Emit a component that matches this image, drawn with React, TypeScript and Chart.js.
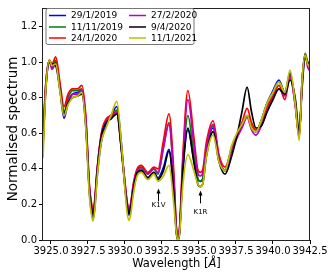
import React, { useEffect, useRef } from "react";
import { Chart, registerables } from "chart.js";

Chart.register(...registerables);

const FONT = "'DejaVu Sans', sans-serif";

const wavelengths = [3924.46, 3924.66, 3924.9, 3925.07, 3925.32, 3925.6, 3925.88, 3926.15, 3926.45, 3926.8, 3927.08, 3927.35, 3927.6, 3927.73, 3927.84, 3927.96, 3928.1, 3928.4, 3928.72, 3929.05, 3929.45, 3929.75, 3930.02, 3930.15, 3930.27, 3930.4, 3930.55, 3930.82, 3931.1, 3931.55, 3931.95, 3932.23, 3932.6, 3932.97, 3933.3, 3933.47, 3933.58, 3933.69, 3933.9, 3934.25, 3934.65, 3934.92, 3935.08, 3935.25, 3935.5, 3935.95, 3936.35, 3936.76, 3937.2, 3937.55, 3937.9, 3938.25, 3938.55, 3938.85, 3939.2, 3939.6, 3940.0, 3940.4, 3940.8, 3941.15, 3941.5, 3941.77, 3941.97, 3942.17, 3942.35, 3942.5];

const spec_29_1_2019 = [0.55, 0.88, 1.01, 0.97, 1.00, 0.85, 0.685, 0.77, 0.82, 0.83, 0.84, 0.66, 0.26, 0.16, 0.12, 0.18, 0.34, 0.55, 0.65, 0.70, 0.75, 0.55, 0.28, 0.18, 0.14, 0.18, 0.27, 0.37, 0.39, 0.35, 0.38, 0.35, 0.41, 0.51, 0.27, 0.05, 0.01, 0.05, 0.37, 0.62, 0.45, 0.345, 0.33, 0.345, 0.50, 0.63, 0.45, 0.39, 0.51, 0.58, 0.64, 0.70, 0.63, 0.61, 0.67, 0.77, 0.84, 0.90, 0.83, 0.93, 0.77, 0.58, 0.90, 1.04, 0.99, 0.97];
const spec_11_11_2019 = [0.58, 0.89, 1.01, 0.98, 1.01, 0.87, 0.72, 0.80, 0.84, 0.84, 0.85, 0.67, 0.28, 0.19, 0.15, 0.21, 0.37, 0.59, 0.67, 0.70, 0.73, 0.53, 0.29, 0.20, 0.16, 0.20, 0.29, 0.39, 0.41, 0.37, 0.40, 0.37, 0.52, 0.66, 0.33, 0.06, 0.01, 0.06, 0.40, 0.70, 0.48, 0.345, 0.33, 0.345, 0.51, 0.64, 0.46, 0.39, 0.52, 0.59, 0.65, 0.70, 0.64, 0.61, 0.67, 0.77, 0.83, 0.89, 0.83, 0.94, 0.78, 0.58, 0.90, 1.05, 1.00, 0.98];
const spec_24_1_2020 = [0.58, 0.89, 1.01, 0.99, 1.03, 0.89, 0.75, 0.82, 0.85, 0.85, 0.87, 0.70, 0.30, 0.21, 0.17, 0.23, 0.38, 0.60, 0.68, 0.70, 0.72, 0.52, 0.30, 0.21, 0.17, 0.21, 0.31, 0.40, 0.42, 0.38, 0.41, 0.40, 0.56, 0.71, 0.38, 0.07, 0.02, 0.07, 0.46, 0.84, 0.58, 0.395, 0.38, 0.395, 0.55, 0.67, 0.48, 0.41, 0.51, 0.59, 0.66, 0.74, 0.66, 0.62, 0.66, 0.75, 0.81, 0.87, 0.79, 0.92, 0.76, 0.58, 0.90, 1.04, 0.99, 0.97];
const spec_27_2_2020 = [0.55, 0.87, 1.00, 0.96, 0.99, 0.86, 0.70, 0.78, 0.82, 0.82, 0.84, 0.68, 0.30, 0.20, 0.16, 0.22, 0.38, 0.59, 0.67, 0.69, 0.72, 0.52, 0.31, 0.21, 0.17, 0.21, 0.30, 0.39, 0.40, 0.37, 0.40, 0.38, 0.52, 0.65, 0.34, 0.07, 0.02, 0.07, 0.43, 0.79, 0.54, 0.375, 0.36, 0.375, 0.52, 0.65, 0.46, 0.39, 0.50, 0.57, 0.63, 0.69, 0.62, 0.59, 0.64, 0.73, 0.80, 0.85, 0.81, 0.92, 0.76, 0.59, 0.88, 1.04, 0.97, 0.95];
const spec_9_4_2020 = [0.52, 0.86, 1.00, 0.99, 0.98, 0.85, 0.71, 0.77, 0.80, 0.81, 0.82, 0.64, 0.27, 0.18, 0.14, 0.20, 0.36, 0.58, 0.66, 0.68, 0.71, 0.51, 0.28, 0.19, 0.15, 0.19, 0.28, 0.38, 0.39, 0.35, 0.38, 0.34, 0.39, 0.50, 0.26, 0.04, 0.00, 0.04, 0.38, 0.63, 0.44, 0.315, 0.30, 0.315, 0.47, 0.61, 0.44, 0.37, 0.47, 0.58, 0.72, 0.86, 0.72, 0.63, 0.64, 0.72, 0.79, 0.85, 0.82, 0.90, 0.80, 0.61, 0.86, 1.03, 1.00, 0.98];
const spec_11_1_2021 = [0.46, 0.86, 1.01, 0.98, 0.99, 0.84, 0.70, 0.76, 0.80, 0.81, 0.83, 0.63, 0.24, 0.145, 0.105, 0.17, 0.33, 0.55, 0.63, 0.70, 0.78, 0.55, 0.26, 0.15, 0.11, 0.15, 0.25, 0.36, 0.38, 0.34, 0.37, 0.33, 0.36, 0.42, 0.20, 0.04, 0.00, 0.04, 0.30, 0.48, 0.39, 0.315, 0.30, 0.315, 0.47, 0.59, 0.44, 0.39, 0.53, 0.60, 0.65, 0.70, 0.63, 0.61, 0.67, 0.77, 0.83, 0.89, 0.83, 0.955, 0.77, 0.56, 0.90, 1.04, 0.99, 0.97];

const seriesLabels = ["29/1/2019", "11/11/2019", "24/1/2020", "27/2/2020", "9/4/2020", "11/1/2021"];
const seriesValues = [spec_29_1_2019, spec_11_11_2019, spec_24_1_2020, spec_27_2_2020, spec_9_4_2020, spec_11_1_2021];
const seriesColors = ["#0000ff", "#008000", "#ff0000", "#bf00bf", "#000000", "#bfbf00"];

const xTicks = [3925.0, 3927.5, 3930.0, 3932.5, 3935.0, 3937.5, 3940.0, 3942.5];
const yTicks = [0.0, 0.2, 0.4, 0.6, 0.8, 1.0, 1.2];

const annotationLabels = ["K1V", "K1R"];
const annotationX = [3932.23, 3935.1];
const annotationTip = [0.289, 0.278];
const annotationTail = [0.217, 0.206];
const annotationText = [0.194, 0.156];

const decorPlugin = {
  id: "decor",
  afterDraw(chart: any) {
    const { ctx, chartArea: a, scales } = chart;
    const xs = scales.x;
    const ys = scales.y;
    ctx.save();
    // frame
    ctx.strokeStyle = "#222";
    ctx.lineWidth = 1;
    const l = Math.round(a.left) - 0.5;
    const t = Math.round(a.top) + 0.5;
    const r = Math.round(a.right) - 0.5;
    const b = Math.round(a.bottom) + 0.5;
    ctx.strokeRect(l, t, r - l, b - t);

    // annotations
    for (let i = 0; i < annotationLabels.length; i++) {
      const px = Math.round(xs.getPixelForValue(annotationX[i])) + 0.5;
      const tip = ys.getPixelForValue(annotationTip[i]);
      const tail = ys.getPixelForValue(annotationTail[i]);
      const ty = ys.getPixelForValue(annotationText[i]);
      ctx.strokeStyle = "#000";
      ctx.fillStyle = "#000";
      ctx.lineWidth = 1;
      ctx.beginPath();
      ctx.moveTo(px, tail);
      ctx.lineTo(px, tip + 3);
      ctx.stroke();
      ctx.beginPath();
      ctx.moveTo(px, tip);
      ctx.lineTo(px - 2, tip + 5);
      ctx.lineTo(px + 2, tip + 5);
      ctx.closePath();
      ctx.fill();
      ctx.font = `7px ${FONT}`;
      ctx.textAlign = "center";
      ctx.textBaseline = "middle";
      ctx.fillText(annotationLabels[i], px, ty);
    }

    // legend
    const bx = 46, by = 8.5, bw = 148, bh = 36, rad = 2;
    ctx.beginPath();
    ctx.moveTo(bx + rad, by);
    ctx.lineTo(bx + bw - rad, by);
    ctx.quadraticCurveTo(bx + bw, by, bx + bw, by + rad);
    ctx.lineTo(bx + bw, by + bh - rad);
    ctx.quadraticCurveTo(bx + bw, by + bh, bx + bw - rad, by + bh);
    ctx.lineTo(bx + rad, by + bh);
    ctx.quadraticCurveTo(bx, by + bh, bx, by + bh - rad);
    ctx.lineTo(bx, by + rad);
    ctx.quadraticCurveTo(bx, by, bx + rad, by);
    ctx.closePath();
    ctx.fillStyle = "rgba(255,255,255,0.9)";
    ctx.fill();
    ctx.strokeStyle = "#777";
    ctx.lineWidth = 1;
    ctx.stroke();
    const rowY = [15.5, 27, 38];
    const colX = [49, 129];
    ctx.font = `9px ${FONT}`;
    ctx.textAlign = "left";
    ctx.textBaseline = "middle";
    for (let i = 0; i < seriesLabels.length; i++) {
      const col = Math.floor(i / 3);
      const row = i % 3;
      const y0 = rowY[row];
      const x0 = colX[col];
      ctx.strokeStyle = seriesColors[i];
      ctx.lineWidth = 1.5;
      ctx.beginPath();
      ctx.moveTo(x0, y0);
      ctx.lineTo(x0 + 17, y0);
      ctx.stroke();
      ctx.fillStyle = "#000";
      ctx.fillText(seriesLabels[i], x0 + 22, y0 + 0.5);
    }

    // axis titles
    ctx.fillStyle = "#000";
    ctx.textBaseline = "middle";
    const xt1 = "Wavelength [";
    const xt2 = "Å";
    const xt3 = "]";
    ctx.font = `11.5px ${FONT}`;
    const w1 = ctx.measureText(xt1).width;
    const w3 = ctx.measureText(xt3).width;
    ctx.font = `italic 11.5px ${FONT}`;
    const w2 = ctx.measureText(xt2).width;
    const total = w1 + w2 + w3;
    const cx = (a.left + a.right) / 2;
    const sx = cx - total / 2;
    const yT = 264;
    ctx.textAlign = "left";
    ctx.font = `11.5px ${FONT}`;
    ctx.fillText(xt1, sx, yT);
    ctx.font = `italic 11.5px ${FONT}`;
    ctx.fillText(xt2, sx + w1, yT);
    ctx.font = `11.5px ${FONT}`;
    ctx.fillText(xt3, sx + w1 + w2, yT);

    ctx.save();
    ctx.translate(13.5, 129);
    ctx.rotate(-Math.PI / 2);
    ctx.textAlign = "center";
    ctx.font = `13.5px ${FONT}`;
    ctx.fillText("Normalised spectrum", 0, 0);
    ctx.restore();

    ctx.restore();
  },
};

export default function App() {
  const ref = useRef<HTMLCanvasElement | null>(null);
  useEffect(() => {
    if (!ref.current) return;
    const drawOrder = [5, 4, 3, 2, 1, 0];
    const chart = new Chart(ref.current, {
      type: "line",
      data: {
        datasets: seriesLabels.map((label, i) => ({
          label,
          data: wavelengths.map((w, j) => ({ x: w, y: seriesValues[i][j] })),
          borderColor: seriesColors[i],
          backgroundColor: seriesColors[i],
          borderWidth: 1.7,
          pointRadius: 0,
          fill: false,
          cubicInterpolationMode: "monotone" as const,
          order: drawOrder[i],
        })),
      },
      options: {
        animation: false,
        responsive: false,
        devicePixelRatio: 1,
        layout: { padding: { top: 5, right: 20, left: 0, bottom: 0 } },
        plugins: {
          legend: { display: false },
          tooltip: { enabled: false },
        },
        scales: {
          x: {
            type: "linear",
            min: 3924.46,
            max: 3942.5,
            afterBuildTicks: (s: any) => {
              s.ticks = xTicks.map((v) => ({ value: v }));
            },
            afterFit: (s: any) => {
              s.height = 35;
            },
            ticks: {
              autoSkip: false,
              maxRotation: 0,
              minRotation: 0,
              padding: 1,
              color: "#000",
              font: { family: FONT, size: 10 },
              callback: (v: any) => Number(v).toFixed(1),
            },
            grid: { drawOnChartArea: false, drawTicks: true, tickLength: 4, tickColor: "#000" },
            border: { display: false },
          },
          y: {
            type: "linear",
            min: 0,
            max: 1.305,
            afterBuildTicks: (s: any) => {
              s.ticks = yTicks.map((v) => ({ value: v }));
            },
            afterFit: (s: any) => {
              s.width = 43;
            },
            ticks: {
              padding: 2,
              color: "#000",
              font: { family: FONT, size: 10 },
              callback: (v: any) => Number(v).toFixed(1),
            },
            grid: { drawOnChartArea: false, drawTicks: true, tickLength: 4, tickColor: "#000" },
            border: { display: false },
          },
        },
      },
      plugins: [decorPlugin],
    });
    return () => chart.destroy();
  }, []);
  return (
    <canvas
      ref={ref}
      width={330}
      height={275}
      style={{ position: "absolute", left: 0, top: 0, width: 330, height: 275 }}
    />
  );
}
